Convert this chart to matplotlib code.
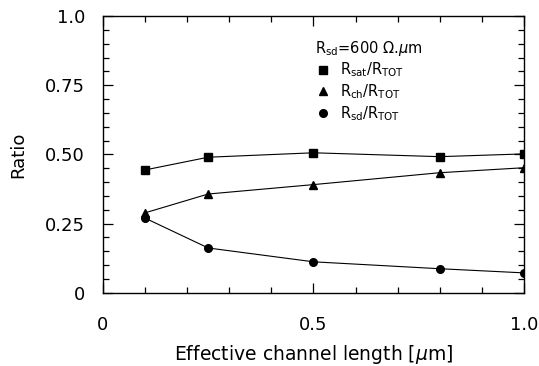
import matplotlib
matplotlib.use("Agg")
import matplotlib.pyplot as plt
from matplotlib.ticker import MultipleLocator, FixedFormatter, FixedLocator

# effective channel length [um]
length = [0.1, 0.25, 0.5, 0.8, 1.0]

r_sat = [0.444, 0.490, 0.506, 0.492, 0.502]
r_ch = [0.289, 0.357, 0.391, 0.434, 0.452]
r_sd = [0.270, 0.162, 0.112, 0.087, 0.072]

x_ticks = [0, 0.5, 1.0]
x_tick_labels = ["0", "0.5", "1.0"]
y_ticks = [0, 0.25, 0.5, 0.75, 1.0]
y_tick_labels = ["0", "0.25", "0.50", "0.75", "1.0"]

plt.rcParams["font.family"] = ["DejaVu Sans"]
plt.rcParams["mathtext.fontset"] = "dejavusans"

fig = plt.figure(figsize=(5.39, 3.66), dpi=100)
ax = fig.add_axes([0.191, 0.2, 0.781, 0.756])

ax.plot(length, r_sat, color="black", lw=0.8, marker="s", ms=5.5,
        label=r"R$_{\rm sat}$/R$_{\rm TOT}$")
ax.plot(length, r_ch, color="black", lw=0.8, marker="^", ms=5.5,
        label=r"R$_{\rm ch}$/R$_{\rm TOT}$")
ax.plot(length, r_sd, color="black", lw=0.8, marker="o", ms=5.5,
        label=r"R$_{\rm sd}$/R$_{\rm TOT}$")

ax.set_xlim(0, 1.0)
ax.set_ylim(0, 1.0)

ax.xaxis.set_major_locator(FixedLocator(x_ticks))
ax.xaxis.set_major_formatter(FixedFormatter(x_tick_labels))
ax.xaxis.set_minor_locator(MultipleLocator(0.1))
ax.yaxis.set_major_locator(FixedLocator(y_ticks))
ax.yaxis.set_major_formatter(FixedFormatter(y_tick_labels))
ax.yaxis.set_minor_locator(MultipleLocator(0.05))

ax.tick_params(which="both", direction="in", top=True, right=True, width=0.9)
ax.tick_params(which="major", length=7, labelsize=13)
ax.tick_params(which="minor", length=4)
ax.tick_params(axis="x", which="major", pad=17)
ax.tick_params(axis="y", which="major", pad=13)
for s in ax.spines.values():
    s.set_linewidth(1.0)

ax.set_xlabel(r"Effective channel length [$\mu$m]", fontsize=13.5, labelpad=6)
ax.set_ylabel("Ratio", fontsize=13, labelpad=13)

leg = ax.legend(loc="upper left", bbox_to_anchor=(0.48, 0.955),
                title=r"R$_{\rm sd}$=600 Ω.$\mu$m", frameon=False,
                fontsize=10.5, title_fontsize=10.5, handlelength=1.0,
                handletextpad=0.7, labelspacing=0.2, borderpad=0.2)
for line in leg.get_lines():
    line.set_linestyle("none")
leg._legend_box.align = "left"

fig.savefig("out.png", dpi=100)
